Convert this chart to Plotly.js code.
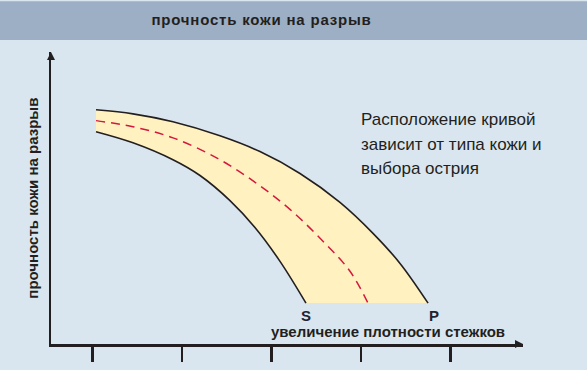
<!DOCTYPE html>
<html>
<head>
<meta charset="utf-8">
<script src="https://cdn.plot.ly/plotly-3.0.1.min.js"></script>
<style>
html,body{margin:0;padding:0;background:#dae6ef;}
#chart{width:587px;height:370px;}
#chart .gtitle{letter-spacing:0.8px;}
</style>
</head>
<body>
<div id="chart"></div>
<script>
// Curve data (relative units: x = stitch density, y = tear strength)
const upperX = [1.037, 1.450, 1.897, 2.422, 2.869, 3.316, 3.763, 4.132, 4.434, 4.747];
const upperY = [8.02, 7.88, 7.61, 7.13, 6.59, 5.84, 4.85, 3.79, 2.76, 1.40];
const lowerX = [1.037, 1.450, 1.897, 2.199, 2.534, 2.813, 3.093, 3.383];
const lowerY = [7.27, 6.89, 6.31, 5.77, 4.91, 3.99, 2.83, 1.40];
const midX = [1.037, 1.450, 1.897, 2.400, 2.836, 3.204, 3.573, 3.875, 4.076];
const midY = [7.65, 7.44, 7.06, 6.35, 5.49, 4.61, 3.52, 2.49, 1.40];
const tickVals = [1, 2, 3, 4, 5];
const titleText = "прочность кожи на разрыв";
const yTitle = "прочность кожи на разрыв";
const xTitle = "увеличение плотности стежков";
const noteLines = ["Расположение кривой", "зависит от типа кожи и", "выбора острия"];
const lowLabel = "S";
const highLabel = "P";

const xRange = [0.534, 5.808];
const yRange = [0, 10];
const ink = "#231f20";
const font = "Liberation Sans, Arial, sans-serif";

const traces = [
  {x: lowerX, y: lowerY, mode: "lines", line: {color: ink, width: 1.6, shape: "spline"}, hoverinfo: "skip"},
  {x: upperX, y: upperY, mode: "lines", fill: "tonexty", fillcolor: "#fff2c0",
   line: {color: ink, width: 1.6, shape: "spline"}, hoverinfo: "skip"},
  {x: midX, y: midY, mode: "lines", line: {color: "#d6173f", width: 1.5, dash: "9px,6px", shape: "spline"}, hoverinfo: "skip"},
  {x: [xRange[1], xRange[0]], y: [yRange[0], yRange[1]], mode: "markers", cliponaxis: false,
   marker: {symbol: ["arrow-right", "arrow-up"], size: 8, color: ink, line: {width: 0}}, hoverinfo: "skip"}
];

const annotations = [
  {xref: "paper", yref: "paper", x: -0.038, y: 0.498, xanchor: "center", yanchor: "middle",
   text: "<b>" + yTitle + "</b>", textangle: -90,
   showarrow: false, font: {family: font, size: 15, color: ink}},
  {xref: "paper", yref: "paper", x: 0.714, y: 0.044, xanchor: "center", yanchor: "middle",
   text: "<b>" + xTitle + "</b>",
   showarrow: false, font: {family: font, size: 15, color: ink}},
  {x: lowerX[lowerX.length - 1], y: lowerY[lowerY.length - 1], xanchor: "center", yanchor: "middle",
   yshift: -12, text: "<b>" + lowLabel + "</b>",
   showarrow: false, font: {family: font, size: 15, color: "#1c2433"}},
  {x: upperX[upperX.length - 1], y: upperY[upperY.length - 1], xanchor: "center", yanchor: "middle",
   yshift: -12, xshift: 6, text: "<b>" + highLabel + "</b>",
   showarrow: false, font: {family: font, size: 15, color: "#1c2433"}}
];
const noteY = [0.770, 0.683, 0.601];
noteLines.forEach((t, i) => annotations.push({
  xref: "paper", yref: "paper", x: 0.6525, y: noteY[i], xanchor: "left", yanchor: "middle", text: t,
  showarrow: false, font: {family: font, size: 17, color: ink}
}));

const layout = {
  width: 587, height: 370,
  margin: {l: 51, r: 64, t: 52, b: 26},
  paper_bgcolor: "#dae6ef", plot_bgcolor: "rgba(0,0,0,0)",
  showlegend: false,
  title: {text: "<b>" + titleText + "</b>", x: 0.4455, xref: "container", xanchor: "center",
          y: 0.946, yref: "container", yanchor: "middle", font: {family: font, size: 15, color: ink}},
  xaxis: {range: xRange, showgrid: false, zeroline: false, showline: true, linecolor: ink, linewidth: 2.5,
          ticks: "outside", ticklen: 15, tickwidth: 2.5, tickcolor: ink, tickvals: tickVals, showticklabels: false, fixedrange: true},
  yaxis: {range: yRange, showgrid: false, zeroline: false, showline: true, linecolor: ink, linewidth: 2.5,
          ticks: "", showticklabels: false, fixedrange: true},
  shapes: [{type: "rect", xref: "paper", yref: "paper", x0: -0.2, x1: 1.2, y0: 1.041, y1: 1.174,
            fillcolor: "#9cafc5", line: {width: 0}, layer: "below"}],
  annotations: annotations
};

Plotly.newPlot("chart", traces, layout, {staticPlot: true, displayModeBar: false});
</script>
</body>
</html>
